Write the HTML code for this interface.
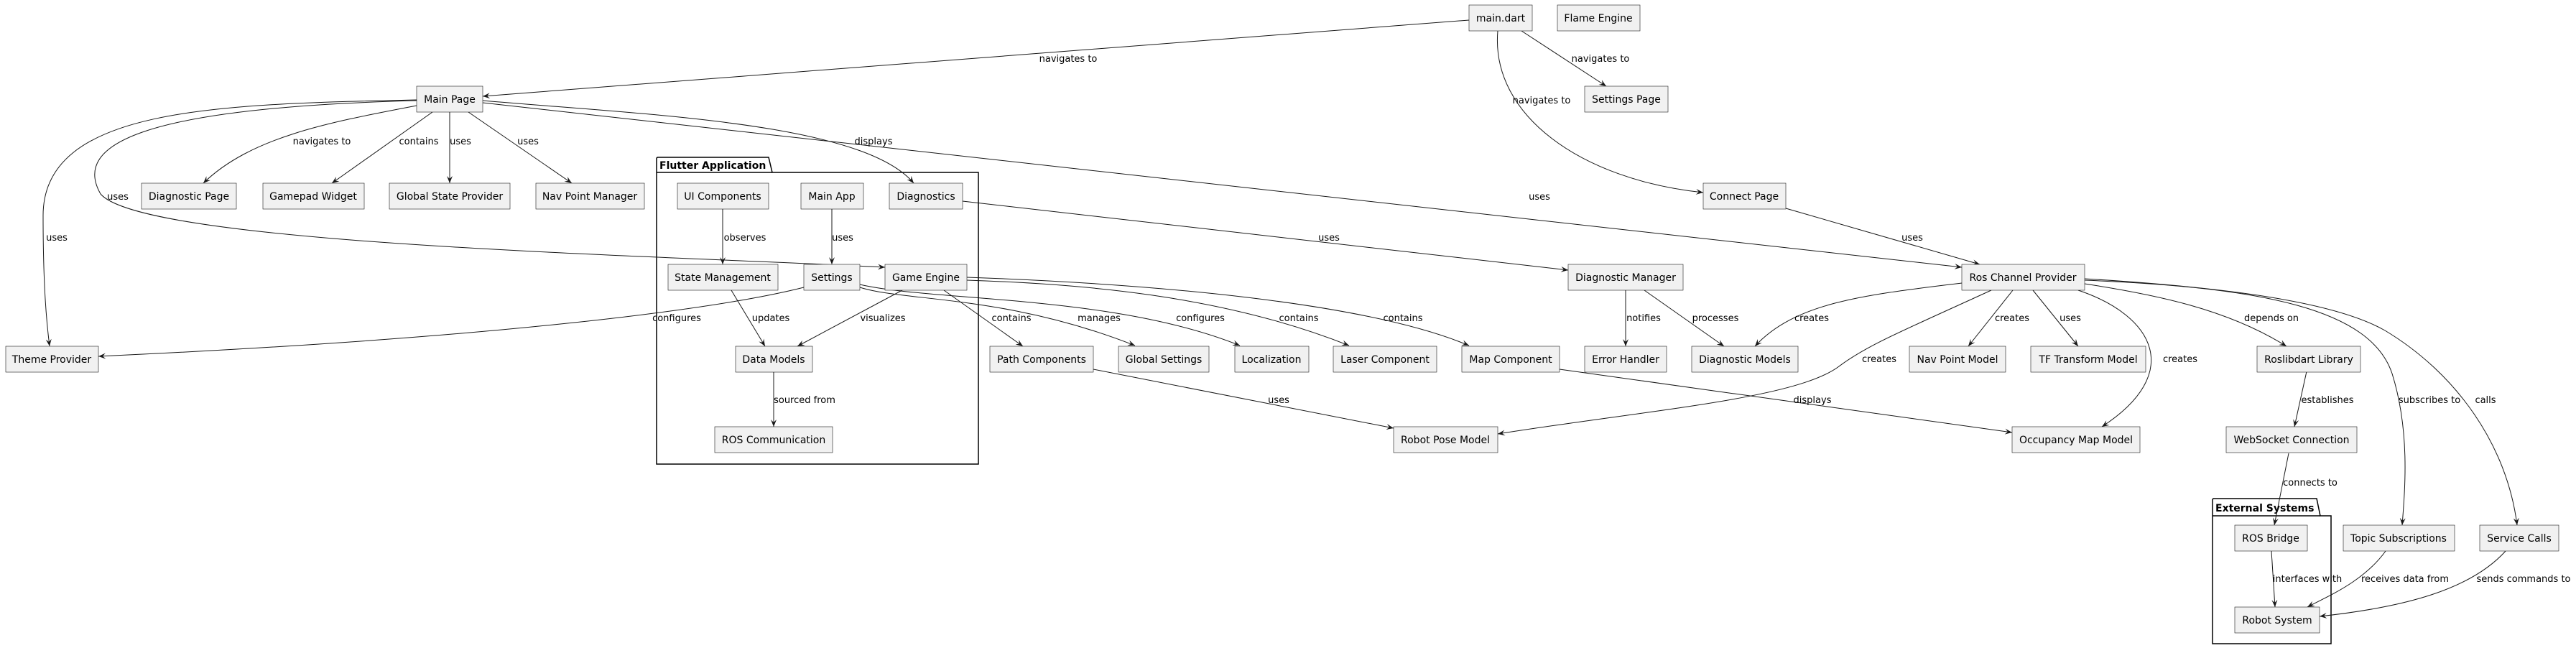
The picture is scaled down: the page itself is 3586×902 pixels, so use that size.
<!DOCTYPE html>
<html><head><meta charset="utf-8"><style>
html,body{margin:0;padding:0;background:#fff;}
svg{display:block;}
.n rect{fill:#F1F1F1;stroke:#181818;stroke-width:0.6;}
.n text{font-family:"DejaVu Sans","Liberation Sans",sans-serif;font-size:14px;fill:#000;text-anchor:middle;}
.e path{fill:none;stroke:#181818;stroke-width:1;marker-end:url(#a);}
.l text{font-family:"DejaVu Sans","Liberation Sans",sans-serif;font-size:13px;fill:#000;text-anchor:middle;}
.p{fill:#fff;stroke:#000;stroke-width:1.5;}
.pt{font-family:"DejaVu Sans","Liberation Sans",sans-serif;font-size:14px;font-weight:bold;}
</style></head><body>
<svg width="3586" height="902" viewBox="0 0 3586 902" xmlns="http://www.w3.org/2000/svg">
<defs><marker id="a" markerWidth="10" markerHeight="8" refX="10" refY="4" orient="auto" markerUnits="userSpaceOnUse"><path d="M0,0 L10,4 L0,8 L4,4 Z" fill="#181818"/></marker></defs>

<!-- packages -->
<path class="p" d="M914,240 L914,221 Q914,219 916,219 L1070,219 L1075,240 L1362,240 L1362,646 L914,646 Z"/>
<line x1="914" y1="240" x2="1075" y2="240" stroke="#000" stroke-width="1.5"/>
<text class="pt" x="918" y="235">Flutter Application</text>
<path class="p" d="M3080,718 L3080,696 Q3080,694 3082,694 L3225,694 L3230,718 L3245,718 L3245,896 L3080,896 Z"/>
<line x1="3080" y1="718" x2="3230" y2="718" stroke="#000" stroke-width="1.5"/>
<text class="pt" x="3084" y="712">External Systems</text>

<g class="e">
<path d="M2045,28 L672,134"/>
<path d="M2118,43 L2236,120"/>
<path d="M2085,43 C2075,160 2200,250 2371,268"/>
<path d="M580,147 C460,170 350,190 283,255"/>
<path d="M602,156 L462,255"/>
<path d="M626,156 L626,255"/>
<path d="M652,156 L796,255"/>
<path d="M580,139 C300,145 60,150 60,300 C60,400 65,450 69,482"/>
<path d="M580,140 C200,150 100,200 140,270 C200,340 900,355 1232,372"/>
<path d="M672,140 C900,160 1200,170 1272,255"/>
<path d="M672,143 L2731,372"/>
<path d="M2486,290 L2756,368"/>
<path d="M1340,280 L2183,376"/>
<path d="M1006,291 L1006,368"/>
<path d="M1158,291 L1158,368"/>
<path d="M1119,400 C1000,430 700,470 137,496"/>
<path d="M1018,404 L1065,482"/>
<path d="M1256,404 L1110,482"/>
<path d="M1077,517 L1077,594"/>
<path d="M1314,404 L1424,482"/>
<path d="M1197,400 C1260,420 1400,410 1580,481"/>
<path d="M1197,396 C1300,420 1550,410 1726,481"/>
<path d="M1346,390 C1500,395 1700,410 1878,481"/>
<path d="M1346,386 C1600,395 1900,420 2045,481"/>
<path d="M1522,514 L1940,596"/>
<path d="M2171,514 L2801,602"/>
<path d="M2772,404 C2650,460 2600,480 2560,510 C2500,555 2300,570 2085,604"/>
<path d="M2731,394 C2600,410 2500,420 2443,482"/>
<path d="M2263,404 L2263,482"/>
<path d="M2289,404 L2400,482"/>
<path d="M2802,404 L2740,482"/>
<path d="M2830,404 L2893,482"/>
<path d="M2893,404 C3000,440 3040,520 2926,594"/>
<path d="M2902,395 C3000,410 3100,430 3183,482"/>
<path d="M3211,517 L3194,594"/>
<path d="M3186,631 L3166,731"/>
<path d="M2902,390 C3150,400 3300,430 3330,520 C3355,600 3348,680 3344,731"/>
<path d="M2902,388 C3100,400 3250,420 3320,460 C3420,520 3490,620 3504,731"/>
<path d="M3162,767 L3167,845"/>
<path d="M3321,767 C3290,810 3240,830 3212,845"/>
<path d="M3488,767 C3440,820 3350,845 3229,858"/>
</g>

<g class="l">
<text x="1487" y="86">navigates to</text>
<text x="2228" y="86">navigates to</text>
<text x="2146" y="144">navigates to</text>
<text x="448" y="201">navigates to</text>
<text x="583" y="201">contains</text>
<text x="641" y="201">uses</text>
<text x="735" y="201">uses</text>
<text x="1216" y="201">displays</text>
<text x="164" y="278">uses</text>
<text x="2143" y="278">uses</text>
<text x="79" y="335">uses</text>
<text x="1037" y="335">observes</text>
<text x="1173" y="335">uses</text>
<text x="1850" y="335">uses</text>
<text x="2662" y="335">uses</text>
<text x="942" y="447">configures</text>
<text x="1073" y="447">updates</text>
<text x="1229" y="447">visualizes</text>
<text x="1408" y="447">contains</text>
<text x="1530" y="447">manages</text>
<text x="1671" y="447">configures</text>
<text x="1808" y="447">contains</text>
<text x="1953" y="447">contains</text>
<text x="2288" y="447">notifies</text>
<text x="2388" y="447">processes</text>
<text x="2522" y="447">creates</text>
<text x="2801" y="447">creates</text>
<text x="2882" y="447">uses</text>
<text x="3162" y="447">depends on</text>
<text x="2616" y="504">creates</text>
<text x="3035" y="504">creates</text>
<text x="1120" y="561">sourced from</text>
<text x="1780" y="561">uses</text>
<text x="2523" y="561">displays</text>
<text x="3240" y="561">establishes</text>
<text x="3382" y="561">subscribes to</text>
<text x="3460" y="561">calls</text>
<text x="3216" y="676">connects to</text>
<text x="3212" y="810">interfaces with</text>
<text x="3348" y="810">receives data from</text>
<text x="3513" y="810">sends commands to</text>
</g>

<g class="n">
<rect x="2045" y="7" width="88" height="36"/><text x="2089" y="30">main.dart</text>
<rect x="2168" y="7" width="115" height="36"/><text x="2225" y="30">Flame Engine</text>
<rect x="580" y="120" width="92" height="36"/><text x="626" y="143">Main Page</text>
<rect x="2206" y="120" width="116" height="36"/><text x="2264" y="143">Settings Page</text>
<rect x="197" y="255" width="132" height="36"/><text x="263" y="278">Diagnostic Page</text>
<rect x="366" y="255" width="141" height="36"/><text x="436" y="278">Gamepad Widget</text>
<rect x="542" y="255" width="168" height="36"/><text x="626" y="278">Global State Provider</text>
<rect x="746" y="255" width="151" height="36"/><text x="821" y="278">Nav Point Manager</text>
<rect x="943" y="255" width="127" height="36"/><text x="1006" y="278">UI Components</text>
<rect x="1115" y="255" width="87" height="36"/><text x="1158" y="278">Main App</text>
<rect x="1238" y="255" width="102" height="36"/><text x="1289" y="278">Diagnostics</text>
<rect x="2371" y="255" width="115" height="36"/><text x="2428" y="278">Connect Page</text>
<rect x="930" y="368" width="153" height="36"/><text x="1006" y="391">State Management</text>
<rect x="1119" y="368" width="78" height="36"/><text x="1158" y="391">Settings</text>
<rect x="1232" y="368" width="114" height="36"/><text x="1289" y="391">Game Engine</text>
<rect x="2183" y="368" width="160" height="36"/><text x="2263" y="391">Diagnostic Manager</text>
<rect x="2731" y="368" width="171" height="36"/><text x="2816" y="391">Ros Channel Provider</text>
<rect x="8" y="482" width="129" height="36"/><text x="72" y="505">Theme Provider</text>
<rect x="1024" y="482" width="107" height="36"/><text x="1077" y="505">Data Models</text>
<rect x="1378" y="482" width="144" height="36"/><text x="1450" y="505">Path Components</text>
<rect x="1557" y="482" width="126" height="36"/><text x="1620" y="505">Global Settings</text>
<rect x="1719" y="482" width="103" height="36"/><text x="1770" y="505">Localization</text>
<rect x="1856" y="482" width="144" height="36"/><text x="1928" y="505">Laser Component</text>
<rect x="2035" y="482" width="136" height="36"/><text x="2103" y="505">Map Component</text>
<rect x="2206" y="482" width="114" height="36"/><text x="2263" y="505">Error Handler</text>
<rect x="2355" y="482" width="148" height="36"/><text x="2429" y="505">Diagnostic Models</text>
<rect x="2658" y="482" width="134" height="36"/><text x="2725" y="505">Nav Point Model</text>
<rect x="2827" y="482" width="160" height="36"/><text x="2907" y="505">TF Transform Model</text>
<rect x="3142" y="482" width="144" height="36"/><text x="3214" y="505">Roslibdart Library</text>
<rect x="995" y="594" width="164" height="36"/><text x="1077" y="617">ROS Communication</text>
<rect x="1940" y="594" width="145" height="36"/><text x="2012" y="617">Robot Pose Model</text>
<rect x="2801" y="594" width="178" height="36"/><text x="2890" y="617">Occupancy Map Model</text>
<rect x="3099" y="594" width="182" height="36"/><text x="3190" y="617">WebSocket Connection</text>
<rect x="3111" y="731" width="101" height="36"/><text x="3161" y="754">ROS Bridge</text>
<rect x="3262" y="731" width="155" height="36"/><text x="3339" y="754">Topic Subscriptions</text>
<rect x="3452" y="731" width="110" height="36"/><text x="3507" y="754">Service Calls</text>
<rect x="3111" y="845" width="118" height="36"/><text x="3170" y="868">Robot System</text>
</g>
</svg>
</body></html>
